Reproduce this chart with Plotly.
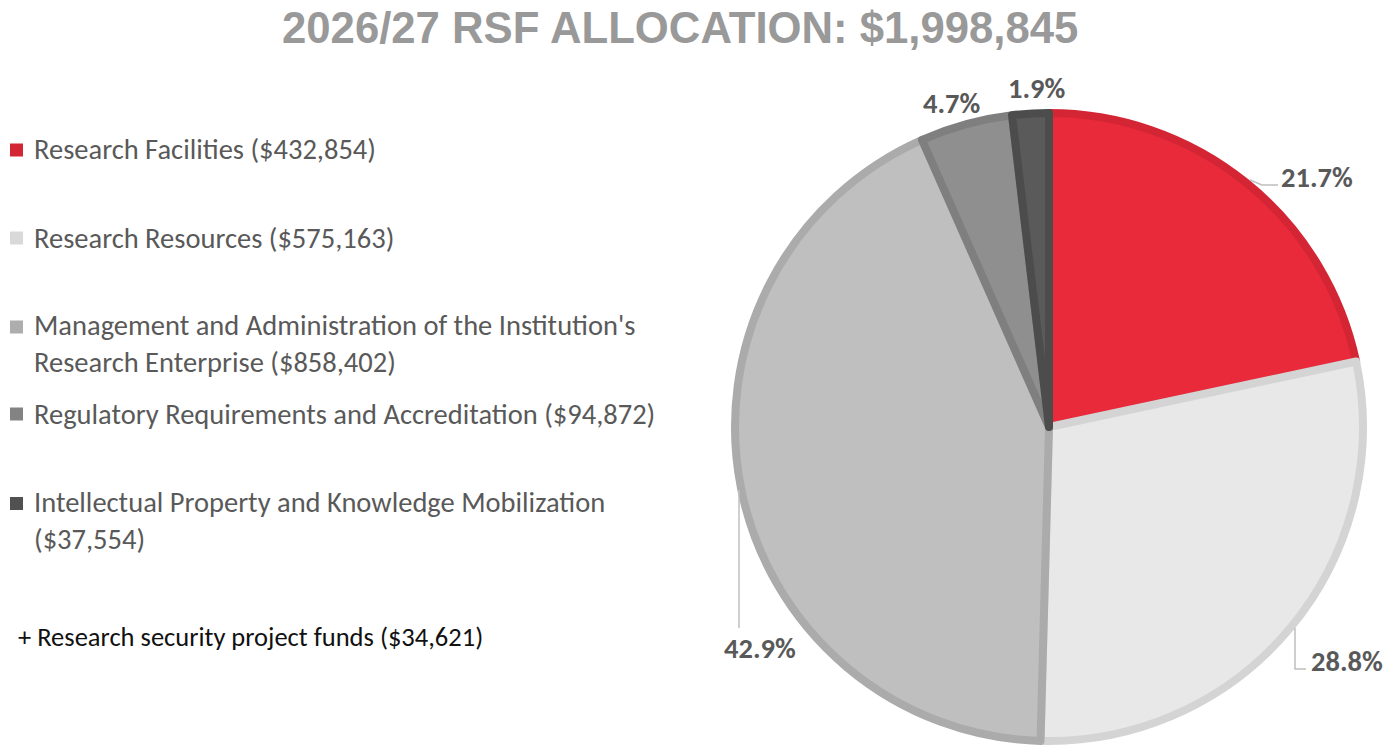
import textwrap
import plotly.graph_objects as go

W, H = 1393, 756

# ---------------- data ----------------
title_text = "2026/27 RSF ALLOCATION: $1,998,845"
categories = [
    "Research Facilities",
    "Research Resources",
    "Management and Administration of the Institution's Research Enterprise",
    "Regulatory Requirements and Accreditation",
    "Intellectual Property and Knowledge Mobilization",
]
values = [432854, 575163, 858402, 94872, 37554]
extra_label = "+ Research security project funds"
extra_value = 34621

fill_colors = ["#E82A3A", "#E8E8E8", "#BFBFBF", "#8F8F8F", "#5A5A5A"]
line_colors = ["#D42535", "#D4D4D4", "#ABABAB", "#7F7F7F", "#4C4C4C"]
legend_colors = ["#D42535", "#D9D9D9", "#ADADAD", "#838383", "#515151"]

# ---------------- helpers ----------------
def px(x):
    return x / W

def py(y):
    return 1 - y / H

LEGEND_FONT = "Carlito, Lato, 'Open Sans', sans-serif"
LABEL_FONT = "Carlito, Lato, 'Open Sans', sans-serif"

fig = go.Figure()

# pie (slice radius ~314 px around centre 1049,427)
cx, cy, r = 1049, 427, 314
fig.add_trace(go.Pie(
    labels=categories,
    values=values,
    sort=False,
    direction="clockwise",
    rotation=0,
    textinfo="none",
    hoverinfo="label+value+percent",
    marker=dict(colors=fill_colors, line=dict(color=line_colors, width=8)),
    domain=dict(x=[px(cx - r), px(cx + r)], y=[py(cy + r), py(cy - r)]),
    showlegend=False,
))

annotations = []
shapes = []

# title
annotations.append(dict(
    text=f"<b>{title_text}</b>", x=px(680), y=py(28), xref="paper", yref="paper",
    xanchor="center", yanchor="middle", showarrow=False,
    font=dict(family="'Liberation Sans', Arial, sans-serif", size=43.7, color="#999999"),
))

# legend (manual)
legend_y = [150, 238, 344, 414, 520.5]
for name, v, col, yc in zip(categories, values, legend_colors, legend_y):
    label = f"{name} (${v:,})"
    lines = textwrap.wrap(label, width=51)
    annotations.append(dict(
        text="<br>".join(lines), x=px(32), y=py(yc), xref="paper", yref="paper",
        xanchor="left", yanchor="middle", align="left", showarrow=False,
        font=dict(family=LEGEND_FONT, size=28.5, color="#595959"),
    ))
    first_line_y = yc - (len(lines) - 1) * 17
    shapes.append(dict(
        type="rect", xref="paper", yref="paper",
        x0=px(10), x1=px(23), y0=py(first_line_y - 6.5), y1=py(first_line_y + 6.5),
        fillcolor=col, line=dict(width=0),
    ))

# footnote
annotations.append(dict(
    text=f"{extra_label} (${extra_value:,})", x=px(16), y=py(637), xref="paper", yref="paper",
    xanchor="left", yanchor="middle", showarrow=False,
    font=dict(family=LEGEND_FONT, size=26.5, color="#111111"),
))

# percentage labels
total = sum(values)
pcts = [f"{v / total * 100:.1f}%" for v in values]
label_pos = [(1317, 177), (1347, 661), (760, 648), (952, 103), (1037, 88)]
for t, (lx, ly) in zip(pcts, label_pos):
    annotations.append(dict(
        text=f"<b>{t}</b>", x=px(lx), y=py(ly), xref="paper", yref="paper",
        xanchor="center", yanchor="middle", showarrow=False,
        font=dict(family=LABEL_FONT, size=28.5, color="#595959"),
    ))

# leader lines
leader_paths = [
    [(1250, 180), (1262, 185), (1278, 185)],
    [(1295, 628), (1295, 669), (1306, 669)],
    [(739, 490), (739, 628)],
]
for pts in leader_paths:
    d = "M " + " L ".join(f"{px(x)},{py(y)}" for x, y in pts)
    shapes.append(dict(type="path", xref="paper", yref="paper", path=d,
                       line=dict(color="#BFBFBF", width=1.5)))

fig.update_layout(
    width=W, height=H,
    margin=dict(l=0, r=0, t=0, b=0),
    paper_bgcolor="white", plot_bgcolor="white",
    annotations=annotations, shapes=shapes,
    showlegend=False,
)

fig.write_html("out.html", config={"displayModeBar": False},
               post_script="document.body.style.margin='0';")
